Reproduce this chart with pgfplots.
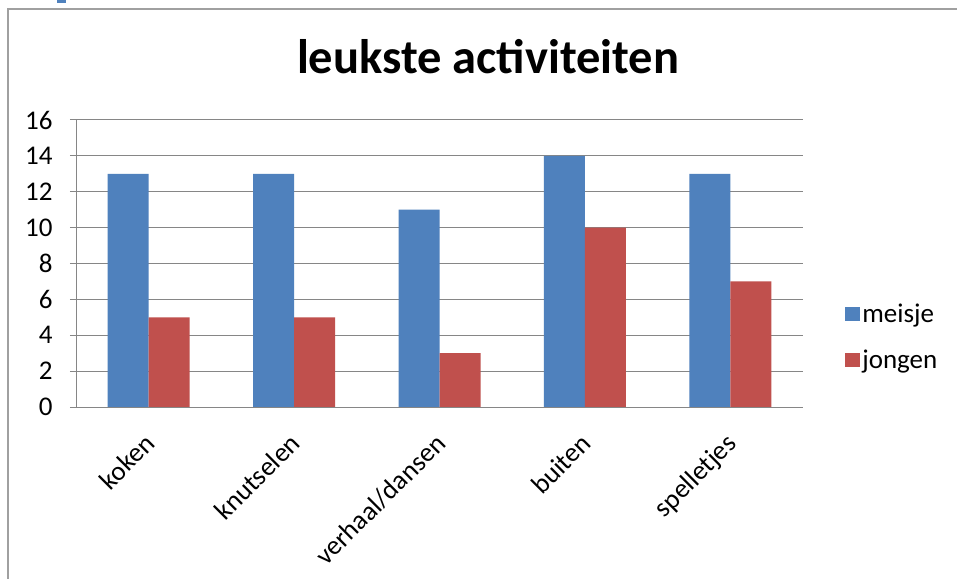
\documentclass[border=0pt]{standalone}
\usepackage{fontspec}
\setmainfont{Carlito}
\usepackage{pgfplots}
\pgfplotsset{compat=1.18}

\definecolor{xlblue}{HTML}{4F81BD}
\definecolor{xlred}{HTML}{C0504D}
\definecolor{xlgrid}{HTML}{868686}
\definecolor{framegray}{HTML}{A0A0A0}

\newcommand{\lblfont}{\fontsize{27bp}{32bp}\selectfont}

\begin{document}
\begin{tikzpicture}
% page = 957 x 579 bp
\useasboundingbox (0bp,0bp) rectangle (957bp,579bp);
\fill[white] (0bp,0bp) rectangle (957bp,579bp);
\draw[framegray, line width=2bp] (7.5bp,0bp) -- (7.5bp,569.5bp) -- (957bp,569.5bp);
\fill[xlblue] (57bp,576bp) rectangle (66bp,579bp);

\begin{axis}[
  at={(76bp,172bp)}, anchor=south west,
  scale only axis,
  width=727bp, height=287bp,
  ybar=0pt, bar width=41bp,
  xmin=-0.5, xmax=4.5,
  ymin=0, ymax=16,
  ytick={0,2,...,16},
  xtick={0,1,2,3,4},
  xticklabels={koken,knutselen,verhaal/dansen,buiten,spelletjes},
  axis lines*=left,
  axis line style={xlgrid, line width=1bp},
  ymajorgrids,
  grid style={xlgrid, line width=1bp},
  tick align=outside,
  major tick length=6bp,
  ytick style={xlgrid, line width=1bp},
  xtick style={draw=none},
  tick label style={font=\lblfont},
  /pgf/number format/assume math mode=true,
  yticklabel style={xshift=-14bp},
  % shifts act in the rotated frame
  xticklabel style={rotate=45, anchor=north east, xshift=-14bp, yshift=-6bp},
  title={leukste activiteiten},
  title style={font=\fontsize{48.5bp}{56bp}\selectfont\bfseries, at={(0.567,1.140)}, anchor=base, yshift=0pt},
  legend style={at={(1.058,0.244)}, anchor=west, draw=none, fill=none,
    font=\lblfont, row sep=22bp, inner sep=0pt},
  legend cell align=left,
  legend image code/.code={\fill[#1, draw=none] (0bp,-7bp) rectangle (15bp,7bp);},
  every even column/.style={column sep=12bp},
]
\addplot[fill=xlblue, draw=none] coordinates {(0,13) (1,13) (2,11) (3,14) (4,13)};
\addlegendentry{meisje}
\addplot[fill=xlred, draw=none] coordinates {(0,5) (1,5) (2,3) (3,10) (4,7)};
\addlegendentry{jongen}
\end{axis}
\end{tikzpicture}
\end{document}
